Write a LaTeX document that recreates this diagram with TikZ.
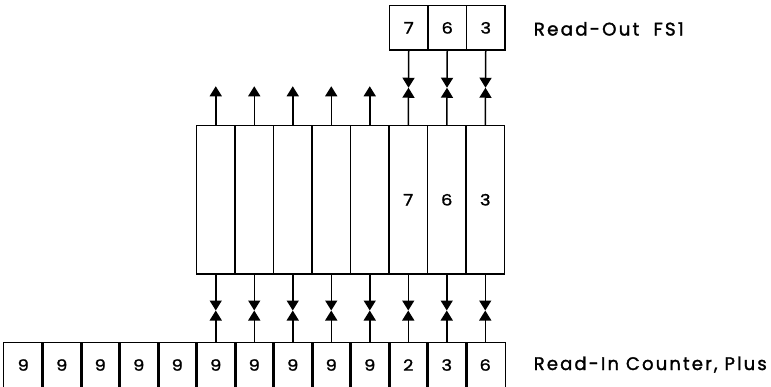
\documentclass[tikz,border=0pt]{standalone}
\usepackage{fontspec}
\usepackage{graphicx}
\setmainfont{Poppins}
\newfontfamily\lettering{Poppins}[LetterSpace=12,FakeBold=1.6]
\newfontfamily\digitfont{Poppins}[FakeBold=1.4,FakeStretch=1.15]
% digits set to a fixed glyph height
\newcommand{\celldigit}[1]{\resizebox{!}{11.5pt}{\digitfont #1}}
\usetikzlibrary{arrows.meta,calc}
\begin{document}
\begin{tikzpicture}[x=1pt,y=-1pt,
  line width=1.5pt,
  cell/.style={rectangle,draw,line width=1.5pt,minimum width=38.5pt,inner sep=0pt},
  opencell/.style={rectangle,minimum width=38.5pt,minimum height=44pt,inner sep=0pt},
  flow/.style={-{Triangle[length=10pt,width=12pt]},line width=1.5pt},
  textlabel/.style={anchor=base west,inner sep=0pt}
]
\useasboundingbox (0,0) rectangle (771,386);

% register block: eight tall columns
\foreach \j/\d in {1/,2/,3/,4/,5/,6/7,7/6,8/3}
  \node[cell,minimum height=148.5pt] (m\j) at ({196.5+38.5*(\j-0.5)},199.75) {\ifx\d\empty\else\celldigit{\d}\fi};

% read-out register above the block
\foreach \k/\d in {1/7,2/6,3/3}
  \node[cell,minimum height=44.3pt] (t\k) at ({389.5+38.5*(\k-0.5)},27.85) {\celldigit{\d}};

% read-in counter along the bottom, open at its lower edge
\foreach \i/\d in {1/9,2/9,3/9,4/9,5/9,6/9,7/9,8/9,9/9,10/9,11/2,12/3,13/6} {
  \node[opencell] (b\i) at ({4+38.5*(\i-0.5)},365) {\celldigit{\d}};
  \draw (b\i.south west) -- (b\i.north west) -- (b\i.north east) -- (b\i.south east);
}

% outputs of the first five columns
\foreach \j in {1,...,5} {
  \coordinate (u\j) at ([yshift=38.5pt]m\j.north);
  \draw[flow] (m\j.north) -- (u\j);
}

% transfer gates between read-out register and block
\foreach \k/\j in {1/6,2/7,3/8} {
  \coordinate (g\k) at ($(t\k.south)!0.5!(m\j.north)$);
  \draw[flow] (t\k.south) -- (g\k);
  \draw[flow] (m\j.north) -- (g\k);
}

% transfer gates between counter and block
\foreach \j in {1,...,8} {
  \pgfmathtruncatemacro{\i}{\j+5}
  \coordinate (h\j) at ([yshift=-2pt]$(m\j.south)!0.5!(b\i.north)$);
  \draw[flow] (m\j.south) -- (h\j);
  \draw[flow] (b\i.north) -- (h\j);
}

\node[textlabel] (lo) at (533,35.5) {\resizebox{150pt}{13.5pt}{\lettering Read-Out\ \ FS1}};
\node[textlabel] (li) at (533,370) {\resizebox{233pt}{13.5pt}{\lettering Read-In Counter, Plus}};
\end{tikzpicture}
\end{document}
